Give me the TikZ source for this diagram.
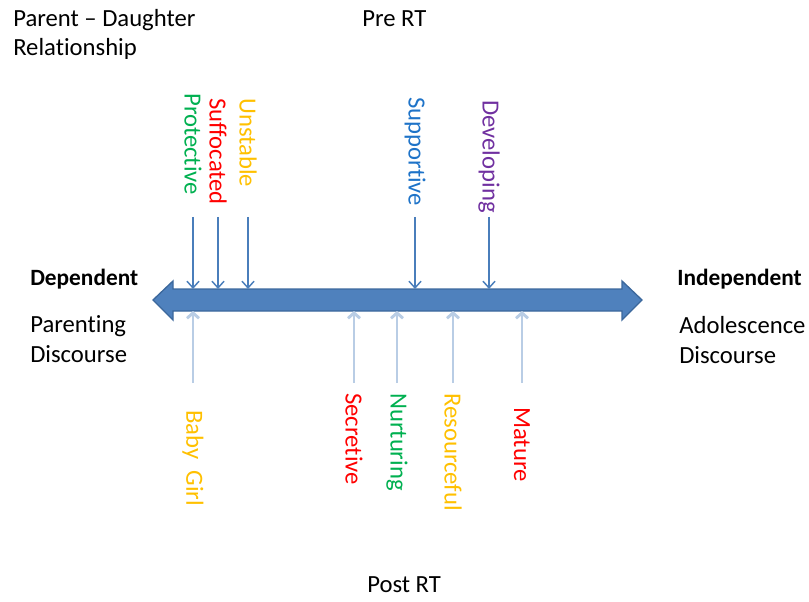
\documentclass[tikz,border=0pt]{standalone}
\usepackage{fontspec}
\setmainfont{Carlito}[Ligatures=NoCommon]
\usetikzlibrary{arrows.meta}

\definecolor{cgreen}{RGB}{0,176,80}
\definecolor{cred}{RGB}{255,0,0}
\definecolor{cgold}{RGB}{255,192,0}
\definecolor{cblue}{RGB}{30,115,200}
\definecolor{cpurple}{RGB}{112,48,160}
\definecolor{axisfill}{RGB}{79,129,189}
\definecolor{axisline}{RGB}{60,104,156}
\definecolor{dnarrow}{RGB}{74,126,187}
\definecolor{uparrow}{RGB}{185,205,229}

\tikzset{
  txt/.style={inner sep=0pt, font=\fontsize{18.5}{22}\selectfont, align=left},
  boldtxt/.style={txt, font=\fontsize{17.5}{22}\selectfont\bfseries},
  toplbl/.style={txt, rotate=-90, anchor=west},
  botlbl/.style={txt, rotate=-90, anchor=west},
  downarr/.style={draw=dnarrow, line width=1.1pt, -{Straight Barb[length=5pt,width=9pt]}},
  uparr/.style={draw=uparrow, line width=2.2pt, -{Straight Barb[length=4pt,width=9pt]}}
}

\begin{document}
\begin{tikzpicture}[x=0.75pt,y=0.75pt,yscale=-1,xscale=1]
\useasboundingbox (0,0) rectangle (809,602);

%Shape: Double Arrow
\draw [fill=axisfill, draw=axisline, line width=1pt] (153,300) -- (173,281) -- (173,289) -- (622,289) -- (622,281) -- (642,300) -- (622,320) -- (622,311) -- (173,311) -- (173,320) -- cycle ;
\coordinate (axtop) at (0,289);
\coordinate (axbot) at (0,311);
\coordinate (toprow) at (0,217);
\coordinate (botrow) at (0,383);

% Text Node (base = last line)
\node [txt, anchor=base west] (title) at (13,56) {Parent -- Daughter\\Relationship};
% Text Node
\node [txt, anchor=base west] (pre) at (362,27) {Pre RT};
% Text Node
\node [txt, anchor=base west] (post) at (367,592) {Post RT};
% Text Node
\node [boldtxt, anchor=base west] (dep) at (30,285) {Dependent};
% Text Node
\node [txt, anchor=base west] (pard) at (30,362) {Parenting\\Discourse};
% Text Node
\node [boldtxt, anchor=base west] (indep) at (677,285) {Independent};
% Text Node
\node [txt, anchor=base west] (adod) at (679,363) {Adolescence\\Discourse};

% Pre RT labels
\node [toplbl, text=cgreen] (prot) at (193,93) {Protective};
\node [toplbl, text=cred] (suff) at (218,98) {Suffocated};
\node [toplbl, text=cgold] (unst) at (248,98) {Unstable};
\node [toplbl, text=cblue] (supp) at (415,97) {Supportive};
\node [toplbl, text=cpurple] (devel) at (489,100) {Developing};

%Straight Lines
\draw [downarr] (prot.east |- toprow) -- (prot.east |- axtop);
\draw [downarr] (suff.east |- toprow) -- (suff.east |- axtop);
\draw [downarr] (unst.east |- toprow) -- (unst.east |- axtop);
\draw [downarr] (supp.east |- toprow) -- (supp.east |- axtop);
\draw [downarr] (devel.east |- toprow) -- (devel.east |- axtop);

% Post RT labels
\node [botlbl, text=cgold] (baby) at (193,410) {Baby\ \ Girl};
\node [botlbl, text=cred] (secr) at (354,393) {Secretive};
\node [botlbl, text=cgreen] (nurt) at (397,393) {Nurturing};
\node [botlbl, text=cgold] (reso) at (453,393) {Resourceful};
\node [botlbl, text=cred] (matu) at (522,407) {Mature};

%Straight Lines
\draw [uparr] (baby.west |- botrow) -- (baby.west |- axbot);
\draw [uparr] (secr.west |- botrow) -- (secr.west |- axbot);
\draw [uparr] (nurt.west |- botrow) -- (nurt.west |- axbot);
\draw [uparr] (reso.west |- botrow) -- (reso.west |- axbot);
\draw [uparr] (matu.west |- botrow) -- (matu.west |- axbot);

\end{tikzpicture}
\end{document}
